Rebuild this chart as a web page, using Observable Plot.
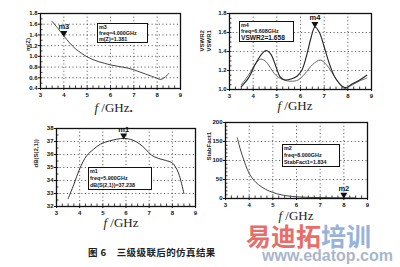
<!DOCTYPE html>
<html><head><meta charset="utf-8">
<script src="https://cdn.jsdelivr.net/npm/d3@7"></script>
<script src="https://cdn.jsdelivr.net/npm/@observablehq/plot@0.6"></script>
<style>
body{margin:0;background:#fff;}
#wrap{position:relative;width:400px;height:267px;overflow:hidden;background:#fff;}
.pl{position:absolute;}
.box{position:absolute;border:1.2px solid #111;background:#fff;font:bold 5.4px "Liberation Sans",Arial,sans-serif;line-height:6.1px;padding:0 1px;color:#111;box-sizing:border-box;white-space:nowrap;overflow:hidden;}
.xl{position:absolute;font:13px/12px "Liberation Serif","Times New Roman",serif;color:#222;white-space:nowrap;transform:translateX(-50%);}
.cap{position:absolute;font:bold 9.5px/11px "Noto Sans CJK SC",sans-serif;color:#222;white-space:nowrap;letter-spacing:0.4px;}
.wm{position:absolute;font:bold 25px/24px "Noto Sans CJK SC",sans-serif;white-space:nowrap;opacity:0.85;}
.wm2{position:absolute;font:bold 16px/15px "Liberation Sans",Arial,sans-serif;white-space:nowrap;color:#a9b6cc;}
</style></head><body>
<div id="wrap"></div>
<script>
// ---- data ----
const freqZ = [3.5,3.75,4,4.25,4.5,4.75,5,5.25,5.5,5.75,6,6.25,6.5,6.75,7,7.25,7.5,7.75,8,8.15,8.3,8.5];
const magZ  = [1.65,1.52,1.381,1.25,1.14,1.06,0.99,0.94,0.90,0.87,0.84,0.82,0.80,0.78,0.75,0.71,0.67,0.63,0.59,0.57,0.60,0.68];

const freqV2 = [3.5,3.8,4.1,4.35,4.55,4.75,4.95,5.15,5.35,5.6,5.85,6.05,6.25,6.45,6.61,6.8,7.0,7.25,7.5,7.87,8.2,8.5,8.8];
const vswr2  = [1.03,1.12,1.27,1.37,1.41,1.37,1.25,1.13,1.10,1.11,1.14,1.2,1.35,1.55,1.658,1.6,1.45,1.25,1.11,1.02,1.06,1.10,1.15];
const freqV1 = [3.5,3.8,4.1,4.32,4.55,4.8,5.0,5.3,5.6,5.9,6.2,6.5,6.83,7.1,7.4,7.65,7.87,8.2,8.5,8.8];
const vswr1  = [1.05,1.15,1.27,1.32,1.29,1.2,1.14,1.10,1.087,1.1,1.17,1.26,1.31,1.26,1.15,1.06,1.01,1.05,1.09,1.12];

const freqS = [3.5,3.75,4.0,4.3,4.6,4.9,5.3,5.9,6.3,6.6,6.85,7.1,7.4,7.7,8.0,8.15,8.3,8.5];
const dbS21 = [32.6,33.7,34.9,35.9,36.4,36.8,37.05,37.238,37.1,36.8,36.4,35.95,35.7,35.55,35.35,35.0,34.4,33.0];

const freqK = [3.5,3.6,3.7,3.85,4.0,4.2,4.4,4.7,5.0,5.3,5.6,6.0,6.5,7,7.5,8,8.5];
const stab  = [160,135,115,88,66,48,36,24,16,10.5,7,4.5,3,2.4,2.0,1.834,1.7];

const xTicks = [3,4,5,6,7,8,9];
const yTicksZ = [0.4,0.6,0.8,1.0,1.2,1.4,1.6,1.8];
const yTicksV = [1.0,1.2,1.4,1.6,1.8];
const yTicksS = [32,33,34,35,36,37,38];
const yTicksK = [0,50,100,150,200];

const markers = [
  {name:"m3", f:4.0,  v:1.381},
  {name:"m4", f:6.61, v:1.658},
  {name:"m1", f:5.9,  v:37.238},
  {name:"m2", f:8.0,  v:1.834}
];
const boxes = [
  ["m3","freq=4.000GHz","m(Z)=1.381"],
  ["m4","freq=6.608GHz","VSWR2=1.658"],
  ["m1","freq=5.900GHz","dB(S(2,1))=37.238"],
  ["m2","freq=8.000GHz","StabFact1=1.834"]
];

const wrap = document.getElementById("wrap");
const zip = (xs, ys) => xs.map((x,i)=>({x, y:ys[i]}));

function chart({left, top, width, height, mL, mR, mT, mB, yDomain, yTicks, yFmt, ylabel, ylabelDx, series, marker, minorY}) {
  const fh = height - mT - mB, fw = width - mL - mR;
  const minorX = d3.range(3, 9.001, 0.25);
  const marks = [
    Plot.gridX(xTicks, {stroke:"#333", strokeOpacity:0.75, strokeDasharray:"1.2,2.4"}),
    Plot.gridY(yTicks, {stroke:"#333", strokeOpacity:0.75, strokeDasharray:"1.2,2.4"}),
    Plot.tickX(minorX, {x:d=>d, insetTop: fh-2.5, stroke:"#111", strokeWidth:0.8}),
    Plot.tickY(minorY, {y:d=>d, insetRight: fw-2.5, stroke:"#111", strokeWidth:0.8}),
    Plot.axisX({ticks:xTicks, tickFormat:d3.format("d"), tickSize:2, tickPadding:2, label:null, fontWeight:"bold"}),
    Plot.axisY({ticks:yTicks, tickFormat:yFmt, tickSize:2, tickPadding:1, label:null, fontWeight:"bold"}),
    ...series.map(s => Plot.line(zip(s.xs, s.ys), {x:"x", y:"y", stroke:s.color, strokeWidth:s.w, curve:"catmull-rom"})),
    Plot.dot([marker], {x:"f", y:"v", symbol:"triangle", rotate:180, r:2.6, fill:"#111", dy:-3}),
    Plot.text([marker], {x:"f", y:"v", text:"name", dy:-9, fontSize:7.5, fontWeight:"bold", fill:"#111"}),
    Plot.text([ylabel], {frameAnchor:"left", dx:ylabelDx, rotate:-90, fontSize:6, fontWeight:"bold", fill:"#222", lineHeight:1.05}),
    Plot.frame({stroke:"#111", strokeWidth:1.3})
  ];
  const p = Plot.plot({
    width, height, marginLeft:mL, marginRight:mR, marginTop:mT, marginBottom:mB,
    x:{domain:[3,9]}, y:{domain:yDomain},
    style:{background:"transparent", fontSize:"6px", fontFamily:"'Liberation Sans', Arial, sans-serif", color:"#111"},
    marks
  });
  const d = document.createElement("div");
  d.className = "pl"; d.style.left = left+"px"; d.style.top = top+"px";
  d.appendChild(p); wrap.appendChild(d);
}

chart({left:0, top:0, width:200, height:100, mL:40, mR:20, mT:13, mB:12,
  yDomain:[0.4,1.8], yTicks:yTicksZ, yFmt:d3.format(".1f"), ylabel:"m(Z)", ylabelDx:-13,
  minorY:d3.range(0.4,1.801,0.1),
  series:[{xs:freqZ, ys:magZ, color:"#444", w:1}], marker:markers[0]});

chart({left:200, top:0, width:200, height:100, mL:29, mR:29, mT:13, mB:11,
  yDomain:[1.0,1.8], yTicks:yTicksV, yFmt:d3.format(".1f"), ylabel:"VSWR2\nVSWR1", ylabelDx:-24,
  minorY:d3.range(1.0,1.801,0.05),
  series:[{xs:freqV1, ys:vswr1, color:"#666", w:1},{xs:freqV2, ys:vswr2, color:"#222", w:1.1}], marker:markers[1]});

chart({left:0, top:115, width:200, height:103, mL:56, mR:5, mT:13, mB:12,
  yDomain:[32,38], yTicks:yTicksS, yFmt:d3.format("d"), ylabel:"dB(S(2,1))", ylabelDx:-21,
  minorY:d3.range(32,38.001,0.5),
  series:[{xs:freqS, ys:dbS21, color:"#333", w:1}], marker:markers[2]});

chart({left:200, top:115, width:200, height:95, mL:25, mR:33, mT:7, mB:12,
  yDomain:[0,200], yTicks:yTicksK, yFmt:d3.format("d"), ylabel:"StabFact1", ylabelDx:-17,
  minorY:d3.range(0,200.1,10),
  series:[{xs:freqK, ys:stab, color:"#444", w:1}], marker:markers[3]});

// marker boxes
const boxPos = [[97,23,51,20],[239,21,55,21],[88,167,64,23],[282,144,58,23]];
boxes.forEach((lines,i)=>{
  const b = document.createElement("div");
  b.className = "box";
  const [l,t,w,h] = boxPos[i];
  Object.assign(b.style,{left:l+"px",top:t+"px",width:w+"px",height:h+"px"});
  if (i >= 2) b.style.lineHeight = "6.8px";
  b.innerHTML = lines.map((s,j)=>`<div style="${(i===1&&j===2)?'font-size:6.6px;line-height:7px':''}">${s}</div>`).join("");
  wrap.appendChild(b);
});

// x labels
[[112,102],[295,100],[121,217],[296,210]].forEach(([x,y])=>{
  const e = document.createElement("div");
  e.className = "xl"; e.style.left = x+"px"; e.style.top = y+"px";
  e.innerHTML = "<i>f</i> /GHz";
  wrap.appendChild(e);
});
const dot = document.createElement("div");
dot.className="xl"; dot.style.left="131px"; dot.style.top="102px"; dot.style.fontWeight="bold"; dot.textContent=".";
wrap.appendChild(dot);

// caption
const cap = document.createElement("div");
cap.className="cap"; cap.style.left="88px"; cap.style.top="247px";
cap.innerHTML = "图 6&nbsp;&nbsp;&nbsp;&nbsp;三级级联后的仿真结果";
wrap.appendChild(cap);

// watermark
const wm = document.createElement("div");
wm.className="wm"; wm.style.left="246px"; wm.style.top="223px";
wm.innerHTML = '<span style="color:#e5544e">易迪拓</span><span style="color:#86a6d6">培训</span>';
wrap.appendChild(wm);
const wm2 = document.createElement("div");
wm2.className="wm2"; wm2.style.left="262px"; wm2.style.top="248px";
wm2.textContent = "www.edatop.com";
wrap.appendChild(wm2);
</script>
</body></html>
